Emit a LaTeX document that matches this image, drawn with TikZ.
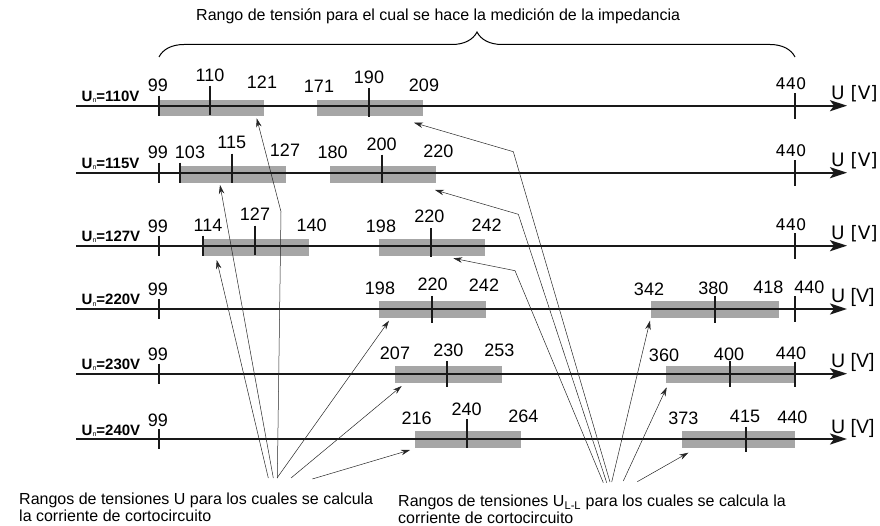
\documentclass[tikz,border=0pt]{standalone}
\usepackage{fontspec}
\setmainfont{Liberation Sans}
\newfontfamily\dejavu{DejaVu Sans}
\usetikzlibrary{arrows.meta, decorations.pathreplacing}

\newcommand{\subn}{\raisebox{-1.2pt}{\fontsize{7}{7}\selectfont\mdseries n}}

\begin{document}
\begin{tikzpicture}[x=1pt, y=-1pt,
    axis/.style={line width=2.2pt, draw=black!90, -{Stealth[length=17pt, width=11pt, inset=4pt]}},
    bar/.style={fill=black!35, draw=none},
    tickmark/.style={line width=2pt, draw=black!90},
    num/.style={anchor=base, inner sep=0pt, font=\fontsize{18}{20}\selectfont},
    numdv/.style={anchor=base, inner sep=0pt, font=\dejavu\fontsize{16}{18}\selectfont},
    unit/.style={anchor=base west, inner sep=0pt, font=\fontsize{19.5}{22}\selectfont},
    unitdv/.style={anchor=base west, inner sep=0pt, font=\dejavu\fontsize{18.5}{22}\selectfont},
    rowlab/.style={anchor=base west, inner sep=0pt, font=\bfseries\fontsize{15}{17}\selectfont},
    note/.style={anchor=base west, inner sep=0pt, font=\fontsize{16}{18}\selectfont},
    conn/.style={draw=black!85, line width=0.5pt, -{Stealth[length=9pt, width=5.5pt]}}
]
    \useasboundingbox (0,0) rectangle (880,526);

    % gray ranges
    \foreach \xa/\xb/\yy/\up/\dn in {159/264/105.7/6/10.5, 316.7/422.7/105.7/6/10.5,
        180/286/172.7/6.5/10, 330/435.7/172.7/6.5/10,
        203.3/309/245.7/6.5/10.5, 379/484.7/245.7/6.5/10.5,
        379/485.7/309/8/8.7, 651/779/309/8/8.7,
        395/501.7/373.7/7.7/9, 666/795/373.7/7.7/9,
        415/520.7/439/8/8.7, 681.7/795/439/8/8.7}
        \fill[bar] (\xa,\yy-\up) rectangle (\xb,\yy+\dn);

    % axes and row labels
    \foreach \n/\yy/\v in {1/105.7/110, 2/172.7/115, 3/245.7/127, 4/309/220, 5/373.7/230, 6/439/240} {
        \coordinate (ax\n s) at (76,\yy);
        \coordinate (ax\n e) at (847,\yy);
        \draw[axis] (ax\n s) -- (ax\n e);
        \node[rowlab] (lab\n) at (81.5,\yy-4) {U\subn=\v V};
    }

    % ticks
    \foreach \xx/\yy/\up/\dn in {159/105.7/10/10, 210/105.7/20/9, 369/105.7/17.5/11, 795/105.7/12.5/13,
        159/172.7/10/10, 180/172.7/10/10, 231.7/172.7/19/10, 381.7/172.7/18/10, 795/172.7/12.5/13,
        159/245.7/10/10, 203.3/245.7/10/10, 255/245.7/20/9.5, 431/245.7/17.5/11, 795/245.7/12.5/13,
        159/309/10/10, 432/309/13/13.5, 715/309/12.5/13.5, 795/309/12.5/13,
        159/373.7/10/10, 446.7/373.7/12.7/13.6, 730/373.7/12.7/13.6, 795/373.7/12/13,
        159/439/10/10, 466.7/439/20/9, 745.7/439/12.5/13}
        \draw[tickmark] (\xx,\yy-\up) -- (\xx,\yy+\dn);

    % values
    \foreach \r/\xx/\yy/\t in {1/158/91.7/99, 1/210/81.7/110, 1/262/89/121, 1/319/92.3/171, 1/369/83.3/190, 1/424/91.7/209,
        2/158/158.3/99, 2/190/158.3/103, 2/231.7/148.7/115, 2/285/156.7/127, 2/332.7/159/180, 2/381.7/150.7/200, 2/438.3/157.3/220,
        3/158/232.7/99, 3/208/231.7/114, 3/255/221/127, 3/311.7/231.4/140, 3/381/232.4/198, 3/429.3/223/220, 3/486.7/231.4/242,
        4/158/296/99, 4/380/295/198, 4/432.7/291/220, 4/484/292/242, 4/649/295.7/342, 4/713.3/295/380, 4/768.3/294/418, 4/809.3/293.3/440,
        5/158/360.7/99, 5/395/359/207, 5/448.3/356/230, 5/499.3/356.7/253, 5/664/361/360, 5/729/360/400, 5/791/359.3/440,
        6/158/426/99, 6/416.7/424/216, 6/466.7/415/240, 6/523.3/422.7/264, 6/683.3/424/373, 6/745/422.7/415, 6/792.3/423/440}
        \node[num] (r\r v\t) at (\xx,\yy) {\t};
    \foreach \r/\yy in {1/89.3, 2/156.7, 3/230.7}
        \node[numdv] (r\r v440) at (791,\yy) {440};

    % units
    \foreach \r/\yy in {1/105.7, 2/172.7, 3/245.7}
        \node[unitdv] (unit\r) at (831,\yy-6) {U [V]};
    \foreach \r/\yy in {4/309, 5/373.7, 6/439}
        \node[unit] (unit\r) at (831,\yy-6) {U [V]};

    % brace and its caption
    \coordinate (brl) at (159,57);
    \coordinate (brr) at (795,57);
    \draw[decorate, decoration={brace, amplitude=25pt}, line width=1pt] (brl) -- (brr);
    \node[anchor=base west, inner sep=0pt, font=\fontsize{16}{18}\selectfont] (title) at (196,20.5)
        {Rango de tensión para el cual se hace la medición de la impedancia};

    % pointers, phase voltage
    \coordinate (ls1) at (277.3,478); \coordinate (lb1) at (281,211.7); \coordinate (lt1) at (256.7,118.3);
    \coordinate (ls2) at (273.3,478); \coordinate (lt2) at (220,185);
    \coordinate (ls3) at (268.3,478); \coordinate (lt3) at (216.7,260);
    \coordinate (ls4) at (277,478);   \coordinate (lt4) at (389,320.7);
    \coordinate (ls5) at (291,478);   \coordinate (lt5) at (401.7,386);
    \coordinate (ls6) at (312.3,479); \coordinate (lt6) at (410,450);
    \draw[conn] (ls1) -- (lb1) -- (lt1);
    \foreach \i in {2,...,6}
        \draw[conn] (ls\i) -- (lt\i);

    % pointers, line-to-line voltage
    \coordinate (rs1) at (610,482);   \coordinate (rb1) at (513.3,151.7); \coordinate (rt1) at (414,122.7);
    \coordinate (rs2) at (606.7,482.7); \coordinate (rb2) at (518.3,214.3); \coordinate (rt2) at (435,190);
    \coordinate (rs3) at (603.3,482.7); \coordinate (rb3) at (515,270.7); \coordinate (rt3) at (453.3,258.3);
    \coordinate (rs4) at (611.7,482); \coordinate (rt4) at (650,320.7);
    \coordinate (rs5) at (623.3,481); \coordinate (rt5) at (666.7,387.3);
    \coordinate (rs6) at (637.3,481.7); \coordinate (rt6) at (688.3,452.7);
    \foreach \i in {1,2,3}
        \draw[conn] (rs\i) -- (rb\i) -- (rt\i);
    \foreach \i in {4,5,6}
        \draw[conn] (rs\i) -- (rt\i);

    % notes
    \node[note] (lnote1) at (19,504.5) {Rangos de tensiones U para los cuales se calcula};
    \node[note] (lnote2) at (19,521) {la corriente de cortocircuito};
    \node[note] (rnote1) at (398,506.5) {Rangos de tensiones U\textsubscript{L-L} para los cuales se calcula la};
    \node[note] (rnote2) at (398,523) {corriente de cortocircuito};
\end{tikzpicture}
\end{document}
